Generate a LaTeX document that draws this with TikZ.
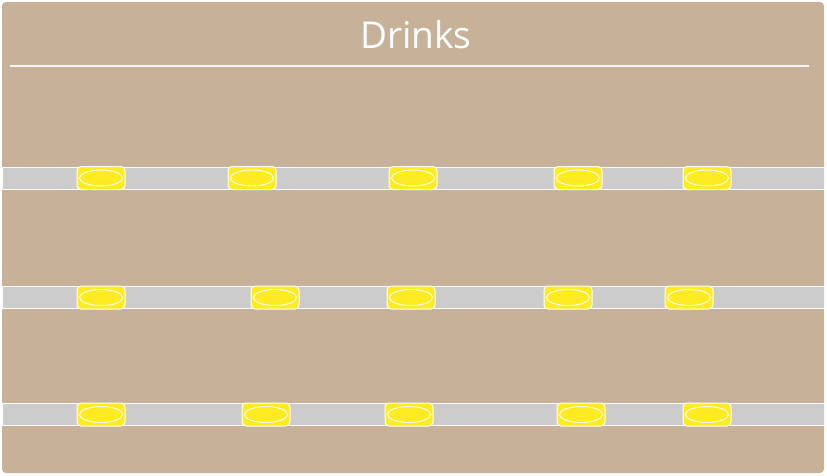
\documentclass[tikz,border=0pt]{standalone}
\usepackage{fontspec}
\setmainfont{Open Sans}
\definecolor{board}{HTML}{C8B199}
\definecolor{shelfgray}{HTML}{CCCCCC}
\definecolor{drink}{HTML}{FFEB22}
\tikzset{
  shelf/.style={fill=shelfgray, draw=white!92!shelfgray, line width=0.8pt},
  can/.style={fill=drink, draw=white, line width=1pt, rounded corners=4pt, minimum width=48pt, minimum height=23pt, inner sep=0pt},
  lid/.style={draw=white, line width=0.9pt, ellipse, inner sep=0pt, minimum width=43pt, minimum height=16pt}
}
\usetikzlibrary{shapes.geometric}
\begin{document}
\begin{tikzpicture}[x=1pt,y=-1pt]
\useasboundingbox (0,0) rectangle (827,476);
\fill[white] (0,0) rectangle (827,476);
\fill[board, rounded corners=4pt] (2,2) rectangle (824,473);
\node[text=white, font=\fontsize{37}{44}\selectfont, anchor=base] (title) at (416,49) {Drinks};
\coordinate (ruleL) at (10,66);
\coordinate (ruleR) at (809,66);
\draw[white!90!board, line width=2pt] (ruleL) -- (ruleR);
% shelves
\foreach \y/\n in {178/a,297.5/b,414.5/c}{
  \draw[shelf] (2,\y-11) rectangle (824,\y+11);
}
% cans
\foreach \x [count=\i] in {101,252,413,578,707}{
  \node[can] (a\i) at (\x,178) {};
  \node[lid] at (a\i) {};
}
\foreach \x [count=\i] in {101,275,411,568,689}{
  \node[can] (b\i) at (\x,297.5) {};
  \node[lid] at (b\i) {};
}
\foreach \x [count=\i] in {101,266,409,581,707}{
  \node[can] (c\i) at (\x,414.5) {};
  \node[lid] at (c\i) {};
}
\end{tikzpicture}
\end{document}
